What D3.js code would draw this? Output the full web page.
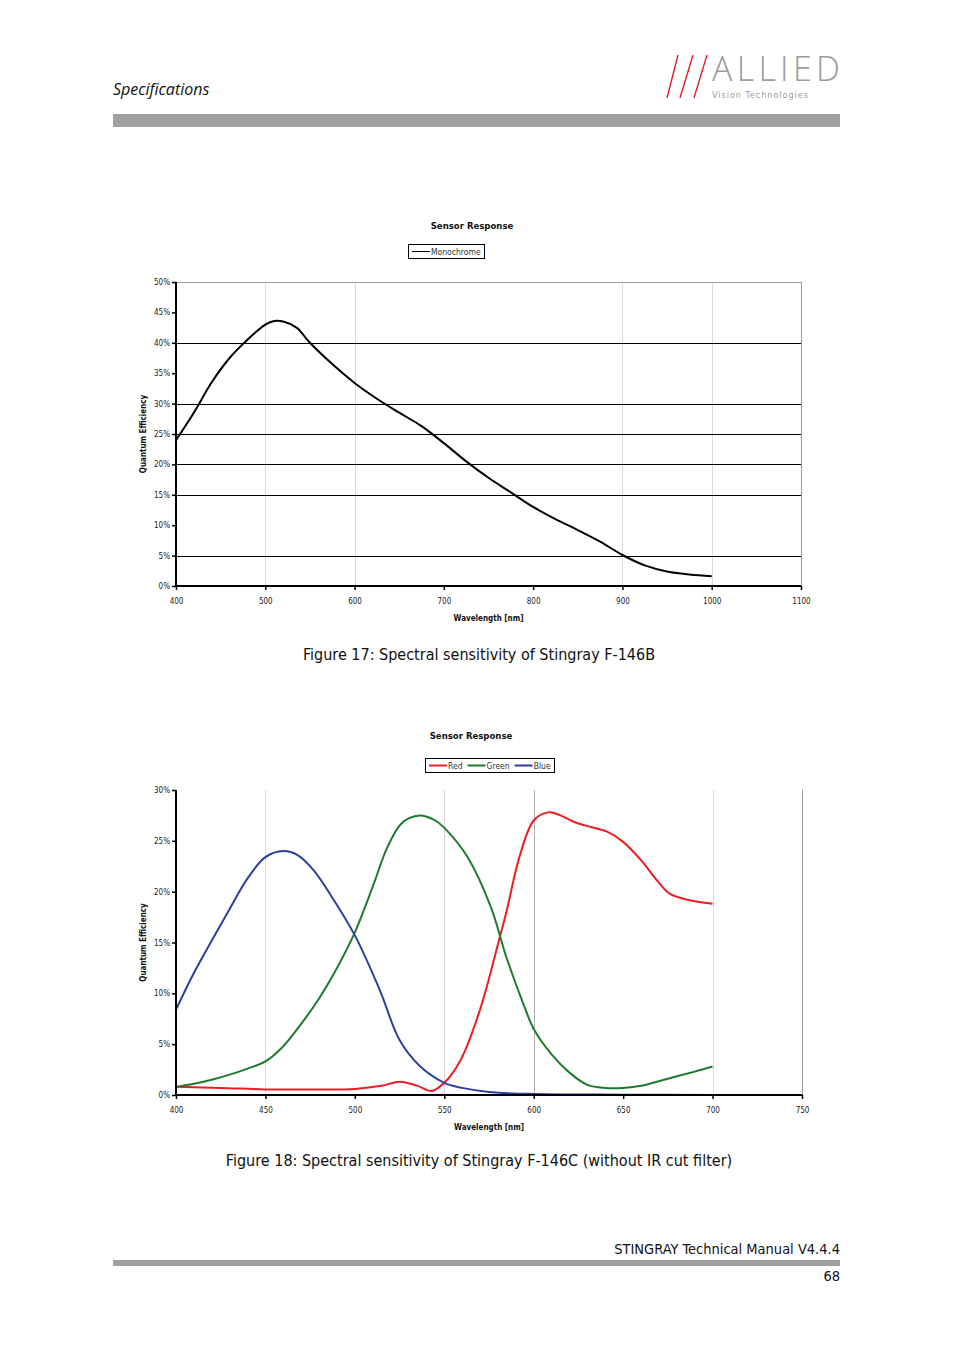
<!DOCTYPE html>
<html><head><meta charset="utf-8">
<script src="https://cdn.jsdelivr.net/npm/d3@7"></script>
<style>
body{margin:0;background:#fff;}
svg{display:block;}
</style></head>
<body>
<script>
// ---- Data ----
const monoWavelength = [400,420,440,460,480,500,510,520,535,550,575,600,625,650,675,700,725,750,775,800,825,850,875,900,925,950,975,1000];
const monoQE =         [24.0,28.5,33.5,37.5,40.5,43.0,43.6,43.5,42.5,40.0,36.5,33.4,30.8,28.5,26.3,23.5,20.5,17.8,15.4,13.0,11.0,9.2,7.3,5.1,3.4,2.4,1.9,1.6];
const monoXTicks = [400,500,600,700,800,900,1000,1100];
const monoYTicks = [0,5,10,15,20,25,30,35,40,45,50];
const monoHGrid = [5,15,20,25,30,40];
const monoVGrid = [500,600,900,1000];

const redWavelength = [400,425,450,475,500,515,525,535,543,550,559,570,581,585,592,600,608,615,622,629,641,650,660,669,676,686,700];
const redQE =         [0.8,0.7,0.55,0.55,0.6,0.9,1.3,0.9,0.4,1.2,3.4,8.4,15.5,18.2,23.4,27.0,27.8,27.5,26.9,26.5,25.9,24.9,23.1,21.1,19.8,19.2,18.8];
const greenWavelength = [400,410,420,430,440,450,460,470,480,490,500,510,518,525,530,537,545,551,563,576,585,595,600,610,620,630,640,650,660,675,690,700];
const greenQE =         [0.8,1.1,1.5,2.0,2.6,3.3,4.8,7.0,9.5,12.5,16.0,20.5,24.3,26.5,27.2,27.5,27.0,26.1,23.4,18.5,13.4,8.6,6.5,4.0,2.2,1.0,0.7,0.7,0.9,1.6,2.3,2.8];
const blueWavelength = [400,410,420,430,440,450,460,468,477,486,500,514,525,536,550,560,575,600,650,700];
const blueQE =         [8.4,12.0,15.2,18.3,21.3,23.4,24.0,23.6,22.1,19.8,15.7,10.3,5.4,2.9,1.2,0.7,0.3,0.1,0.03,0.0];
const rgbXTicks = [400,450,500,550,600,650,700,750];
const rgbYTicks = [0,5,10,15,20,25,30];
const rgbVGrid = [450,550,600,700];
const rgbSeries = [
  {name:"Red", color:"#ee1c24", x:redWavelength, y:redQE},
  {name:"Green", color:"#1e7b2e", x:greenWavelength, y:greenQE},
  {name:"Blue", color:"#2e3f9e", x:blueWavelength, y:blueQE}
];

const W=954,H=1350;
const svg=d3.select("body").append("svg").attr("width",W).attr("height",H);
const cond="'DejaVu Sans Condensed','DejaVu Sans',sans-serif";

// ---- Header ----
svg.append("text").attr("x",113).attr("y",95).attr("font-family","'Open Sans',sans-serif")
  .attr("font-style","italic").attr("font-size",16).attr("fill","#111").text("Specifications");
// logo slashes
[[678,667],[693,680],[707,694]].forEach(d=>{
  svg.append("line").attr("x1",d[0]).attr("y1",55).attr("x2",d[1]).attr("y2",98)
    .attr("stroke","#e3141b").attr("stroke-width",1.3);
});
svg.append("text").attr("x",712).attr("y",81).attr("font-family","'DejaVu Sans ExtraLight','Open Sans Light','Open Sans',sans-serif")
  .attr("font-size",34).attr("font-weight",200).attr("fill","#9c9c9c")
  .attr("textLength",128).attr("lengthAdjust","spacing").text("ALLIED");
svg.append("text").attr("x",712).attr("y",98).attr("font-family",cond)
  .attr("font-size",9).attr("fill","#9a9a9a").attr("textLength",96).attr("lengthAdjust","spacing").text("Vision Technologies");
svg.append("rect").attr("x",113).attr("y",114).attr("width",727).attr("height",13).attr("fill","#a0a0a0");

// ---- Footer ----
svg.append("text").attr("x",840).attr("y",1254).attr("text-anchor","end").attr("font-family",cond)
  .attr("font-size",14.5).attr("fill","#111").text("STINGRAY Technical Manual V4.4.4");
svg.append("rect").attr("x",113).attr("y",1260).attr("width",727).attr("height",6).attr("fill","#a0a0a0");
svg.append("text").attr("x",840).attr("y",1281).attr("text-anchor","end").attr("font-family",cond)
  .attr("font-size",14.5).attr("fill","#111").text("68");

function chart(cfg){
  const g=svg.append("g");
  const x=d3.scaleLinear().domain(cfg.xDomain).range([cfg.left,cfg.right]);
  const y=d3.scaleLinear().domain(cfg.yDomain).range([cfg.bottom,cfg.top]);
  // vertical grid
  g.selectAll(".vg").data(cfg.vGrid).enter().append("line")
    .attr("x1",d=>Math.round(x(d))+0.5).attr("x2",d=>Math.round(x(d))+0.5).attr("y1",cfg.top).attr("y2",cfg.bottom)
    .attr("stroke",d=>d===cfg.darkV?"#b0b0b0":"#d8d8d8").attr("stroke-width",1);
  // right border
  g.append("line").attr("x1",cfg.right+0.5).attr("x2",cfg.right+0.5).attr("y1",cfg.top).attr("y2",cfg.bottom)
    .attr("stroke","#999").attr("stroke-width",1);
  if(cfg.topBorder){
    g.append("line").attr("x1",cfg.left).attr("x2",cfg.right).attr("y1",cfg.top+0.5).attr("y2",cfg.top+0.5)
      .attr("stroke","#999").attr("stroke-width",1);
  }
  // horizontal grid
  g.selectAll(".hg").data(cfg.hGrid||[]).enter().append("line")
    .attr("x1",cfg.left).attr("x2",cfg.right).attr("y1",d=>Math.round(y(d))+0.5).attr("y2",d=>Math.round(y(d))+0.5)
    .attr("stroke","#000").attr("stroke-width",1);
  // lines
  const line=d3.line().x(d=>x(d[0])).y(d=>y(d[1])).curve(d3.curveCatmullRom.alpha(0.5));
  cfg.series.forEach(s=>{
    g.append("path").datum(s.x.map((v,i)=>[v,s.y[i]])).attr("d",line)
      .attr("fill","none").attr("stroke",s.color).attr("stroke-width",2).attr("stroke-linejoin","round");
  });
  // axes
  const ya=d3.axisLeft(y).tickValues(cfg.yTicks).tickFormat(d=>d+"%").tickSize(4).tickPadding(2);
  const yg=g.append("g").attr("transform",`translate(${cfg.left},0)`).call(ya);
  const xa=d3.axisBottom(x).tickValues(cfg.xTicks).tickFormat(d=>String(d)).tickSize(4).tickPadding(8);
  const xg=g.append("g").attr("transform",`translate(0,${cfg.bottom})`).call(xa);
  [yg,xg].forEach(a=>{
    a.select(".domain").attr("stroke","#000").attr("stroke-width",2);
    a.selectAll(".tick line").attr("stroke","#000").attr("stroke-width",1.5);
    a.selectAll("text").attr("font-family",cond).attr("font-size",8).attr("fill","#222");
  });
  yg.select(".domain").attr("d",`M0,${cfg.top}V${cfg.bottom+1}`);
  xg.select(".domain").attr("d",`M${cfg.left-1},0H${cfg.right}`);
  // title
  g.append("text").attr("x",cfg.titleX).attr("y",cfg.titleY).attr("text-anchor","middle")
    .attr("font-family",cond).attr("font-weight","bold").attr("font-size",9.5).attr("fill","#111").text("Sensor Response");
  // legend
  const lg=g.append("g");
  lg.append("rect").attr("x",cfg.legX+0.5).attr("y",cfg.legY+0.5).attr("width",cfg.legW).attr("height",14)
    .attr("fill","#fff").attr("stroke","#000").attr("stroke-width",1);
  let cx=cfg.legX+4;
  cfg.series.forEach(s=>{
    lg.append("line").attr("x1",cx).attr("x2",cx+18).attr("y1",cfg.legY+7.5).attr("y2",cfg.legY+7.5)
      .attr("stroke",s.color).attr("stroke-width",s.color==="#000"?1:2);
    const t=lg.append("text").attr("x",cx+19).attr("y",cfg.legY+11).attr("font-family",cond)
      .attr("font-size",8.5).attr("fill","#333").text(s.name);
    cx+=19+t.node().getComputedTextLength()+5;
  });
  // axis titles
  g.append("text").attr("transform",`translate(${cfg.yLabelX},${(cfg.top+cfg.bottom)/2}) rotate(-90)`)
    .attr("text-anchor","middle").attr("font-family",cond).attr("font-weight","bold").attr("font-size",8)
    .attr("fill","#111").text("Quantum Efficiency");
  g.append("text").attr("x",(cfg.left+cfg.right)/2).attr("y",cfg.xLabelY).attr("text-anchor","middle")
    .attr("font-family",cond).attr("font-weight","bold").attr("font-size",8).attr("fill","#111").text("Wavelength [nm]");
  // caption
  g.append("text").attr("x",cfg.capX).attr("y",cfg.capY).attr("text-anchor","middle")
    .attr("font-family",cond).attr("font-size",16).attr("fill","#111").text(cfg.caption);
}

chart({
  xDomain:[400,1100], yDomain:[0,50], left:176, right:801, top:282, bottom:586,
  vGrid:monoVGrid, hGrid:monoHGrid, topBorder:true, xTicks:monoXTicks, yTicks:monoYTicks,
  series:[{name:"Monochrome", color:"#000", x:monoWavelength, y:monoQE}],
  titleX:472, titleY:229, legX:408, legY:244, legW:76, yLabelX:146, xLabelY:621,
  caption:"Figure 17: Spectral sensitivity of Stingray F-146B", capX:479, capY:660
});
chart({
  xDomain:[400,750], yDomain:[0,30], left:176, right:802, top:790, bottom:1095,
  vGrid:rgbVGrid, darkV:600, hGrid:[], topBorder:false, xTicks:rgbXTicks, yTicks:rgbYTicks,
  series:rgbSeries,
  titleX:471, titleY:739, legX:425, legY:758, legW:129, yLabelX:146, xLabelY:1130,
  caption:"Figure 18: Spectral sensitivity of Stingray F-146C (without IR cut filter)", capX:479, capY:1166
});
</script>
</body></html>
